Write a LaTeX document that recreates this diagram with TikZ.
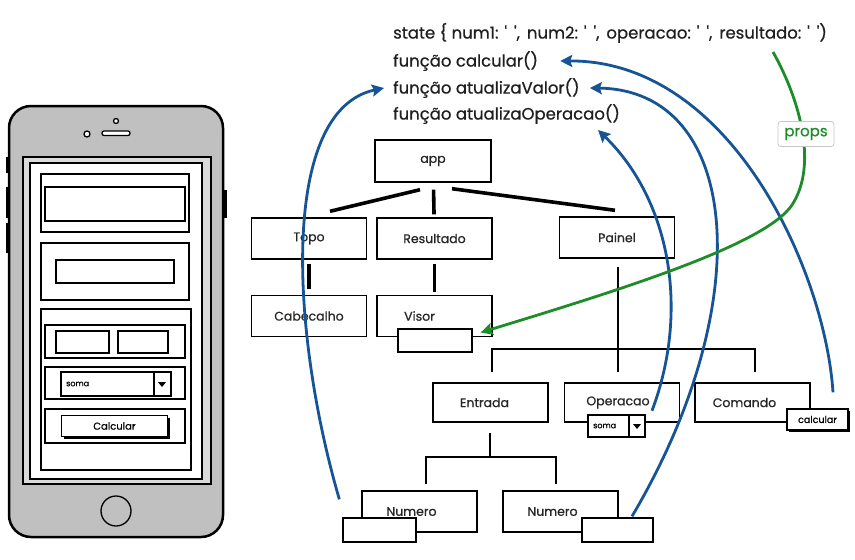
\documentclass[tikz,border=0pt]{standalone}
\usepackage{fontspec}
\setmainfont{Poppins}[FakeBold=0.7]
\usetikzlibrary{arrows.meta,shadows}
\definecolor{setaazul}{RGB}{22,84,150}
\definecolor{setaverde}{RGB}{30,140,40}
\definecolor{cinzacel}{RGB}{192,192,192}
\definecolor{cinzatela}{RGB}{218,218,218}
\newcommand{\aspa}{\textquotesingle}
\newcommand{\vazio}{\aspa\hspace{7pt}\aspa}

\begin{document}
\begin{tikzpicture}[x=1pt,y=-1pt,
	comp/.style={draw,line width=1.4pt,minimum width=115pt,minimum height=41pt,inner sep=0pt,font=\fontsize{12.5}{14}\selectfont,text=black!85},
	slot/.style={draw,line width=1.3pt,fill=white,inner sep=0pt},
	ui/.style={draw,line width=1.3pt,fill=white},
	tie/.style={line width=3.6pt},
	bar/.style={line width=2.6pt},
	flow/.style={setaazul,line width=2.8pt,-{Stealth[length=12pt,width=12pt,inset=2pt]}},
	codigo/.style={anchor=west,inner sep=0pt,font=\fontsize{16.5}{18}\selectfont,text=black!88}]
	\useasboundingbox (0,0) rectangle (855,560);
	% telefone
	\fill (6,157) rectangle (10,173);
	\fill (6,187) rectangle (10,218);
	\fill (6,223) rectangle (10,253);
	\fill (222,190) rectangle (227,218);
	\draw[line width=2.5pt,fill=cinzacel,rounded corners=22pt] (9,106) rectangle (223,537);
	\draw[line width=1.3pt,fill=white] (116,121) circle (2.5pt);
	\draw[line width=1.3pt,fill=white] (87,134) circle (3pt);
	\draw[line width=1.3pt,fill=white,rounded corners=2pt] (102,131) rectangle (130,135.5);
	\draw[line width=1.3pt,fill=cinzacel] (116,511) circle (15pt);
	\draw[line width=2.6pt,fill=cinzatela] (23,157) rectangle (211,484);
	\draw[line width=1.2pt,fill=white] (30,163) rectangle (202,479);
	\draw[ui] (41,174) rectangle (189,232);
	\draw[ui] (45,187) rectangle (185,221);
	\draw[ui] (41,243) rectangle (189,300);
	\draw[ui] (56,260) rectangle (174,283);
	\draw[ui] (41,309) rectangle (191,470);
	\draw[ui] (45,325) rectangle (185,358);
	\draw[ui] (56,331) rectangle (109,353);
	\draw[ui] (118,331) rectangle (168,353);
	\draw[ui] (45,367) rectangle (185,399);
	\draw[ui] (61,372) rectangle (171,396);
	\draw[line width=1.1pt] (154,372) -- (154,396);
	\fill (158,382) -- (166,382) -- (162,387) -- cycle;
	\node[anchor=west,inner sep=0pt,font=\fontsize{8}{9}\selectfont] (somacel) at (66,384) {soma};
	\draw[ui] (45,409) rectangle (185,443);
	\node[slot,minimum width=106pt,minimum height=21pt,font=\fontsize{10}{11}\selectfont,drop shadow={shadow xshift=2pt,shadow yshift=-2pt,fill=black,opacity=1}] (btncalc) at (114.5,426) {Calcular};
	% codigo
	\node[codigo] (state) at (393,33) {state \{ num1: \vazio,\hspace{7pt}num2: \vazio,\hspace{7pt}operacao: \vazio,\hspace{7pt}resultado: \vazio)};
	\node[codigo] (fcalc) at (393,61) {função calcular()};
	\node[codigo] (fvalor) at (393,88) {função atualizaValor()};
	\node[codigo] (foper) at (393,114) {função atualizaOperacao()};
	% componentes
	\node[comp,minimum width=116pt,minimum height=42pt] (app) at (433,161) {app};
	\node[comp] (topo) at (309,238.5) {Topo};
	\node[comp] (resultado) at (434.5,238.5) {Resultado};
	\node[comp] (painel) at (617,237.5) {Painel};
	\node[comp] (cabecalho) at (309,316) {Cabecalho};
	\node[comp] (visor) at (434.5,316) {Visor\kern30pt};
	\node[slot,minimum width=74pt,minimum height=23pt] (visorbox) at (435,340.5) {};
	\node[comp,minimum height=39pt] (entrada) at (490.5,402.5) {Entrada\kern12pt};
	\node[comp,minimum height=39pt] (operacao) at (622,402.5) {Operacao\kern8pt};
	\node[comp,minimum height=39pt] (comando) at (752.5,402.5) {Comando\kern16pt};
	\node[slot,minimum width=57pt,minimum height=22pt] (somabox) at (616.5,426) {};
	\draw[line width=1.1pt] (629,415) -- (629,437);
	\fill (633,424) -- (641,424) -- (637,429) -- cycle;
	\node[anchor=west,inner sep=0pt,font=\fontsize{8}{9}\selectfont] (somaop) at (593,426) {soma};
	\node[slot,minimum width=61pt,minimum height=21pt,font=\fontsize{9.5}{11}\selectfont,drop shadow={shadow xshift=2pt,shadow yshift=-2pt,fill=black,opacity=1}] (calcbox) at (817.5,419.5) {calcular};
	\node[comp] (numeroa) at (419.5,511.5) {Numero\kern16pt};
	\node[comp] (numerob) at (560.5,511.5) {Numero\kern16pt};
	\node[slot,minimum width=73pt,minimum height=24pt] (numboxa) at (379.5,530) {};
	\node[slot,minimum width=71pt,minimum height=24pt] (numboxb) at (617.5,530) {};
	% ligacoes
	\draw[tie] ([xshift=-13pt,yshift=-7pt]app.south) -- ([xshift=21pt,yshift=6pt]topo.north);
	\draw[tie,shorten <=7pt,shorten >=3pt] (app) -- (resultado);
	\draw[tie] ([xshift=19pt,yshift=-6pt]app.south) -- ([xshift=-2pt,yshift=6pt]painel.north);
	\draw[tie,shorten <=4pt,shorten >=6pt] (topo) -- (cabecalho);
	\draw[tie,shorten <=4pt,shorten >=3pt] (resultado) -- (visor);
	\coordinate (split) at (618,349);
	\coordinate (fork) at (490,457);
	\draw[bar] ([xshift=1pt,yshift=-8pt]painel.south) -- ([xshift=-4pt,yshift=10pt]operacao.north);
	\draw[bar] ([xshift=1.5pt,yshift=10pt]entrada.north) |- (split) -| ([xshift=2.5pt,yshift=10pt]comando.north);
	\draw[bar] ([xshift=-0.5pt,yshift=-10pt]entrada.south) -- (fork);
	\draw[bar] ([xshift=6.5pt,yshift=6pt]numeroa.north) |- (fork) -| ([xshift=-4.5pt,yshift=6pt]numerob.north);
	% setas
	\draw[flow] ([xshift=15.5pt,yshift=16pt]calcbox.north) .. controls (825,270) and (730,60) .. ([xshift=22pt]fcalc.east);
	\draw[flow] ([xshift=14.5pt,yshift=1pt]numboxb.north) .. controls (760,300) and (740,90) .. ([xshift=10pt]fvalor.east);
	\draw[flow] ([xshift=30pt,yshift=12pt]operacao.south) .. controls (690,310) and (670,200) .. ([xshift=-22pt,yshift=-16pt]foper.east);
	\draw[flow] ([xshift=-3pt,yshift=18pt]numboxa.north west) .. controls (290,330) and (280,110) .. ([xshift=-9pt]fvalor.west);
	\coordinate (resstart) at (773,52);
	\draw[setaverde,line width=2.8pt,-{Stealth[length=12pt,width=12pt,inset=2pt]}] (resstart) .. controls (800,100) and (818,165) .. (792,205) .. controls (765,245) and (620,290) .. ([xshift=8pt,yshift=8pt]visorbox.east);
	\node[draw=black!22,line width=0.8pt,rounded corners=3pt,fill=white,text=setaverde,font=\fontsize{15}{16}\selectfont,minimum width=56pt,minimum height=25pt,inner sep=1pt] (props) at (806,134) {props};
\end{tikzpicture}
\end{document}
